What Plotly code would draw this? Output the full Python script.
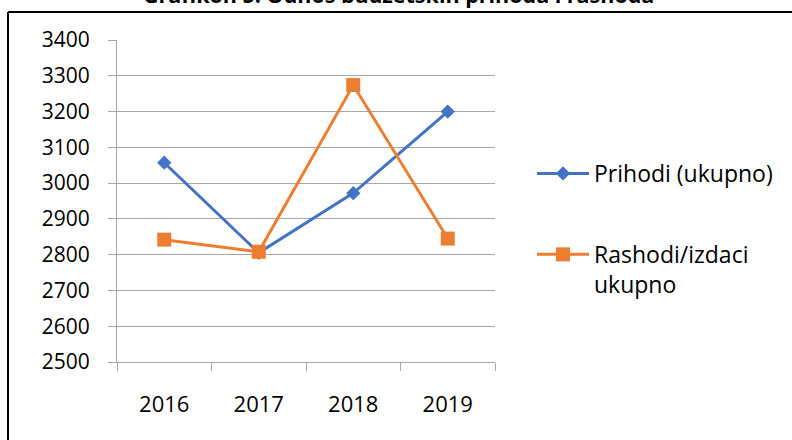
import plotly.graph_objects as go

years = ["2016", "2017", "2018", "2019"]
prihodi = [3057, 2805, 2972, 3200]
rashodi = [2842, 2808, 3274, 2845]
y_ticks = [2500, 2600, 2700, 2800, 2900, 3000, 3100, 3200, 3300, 3400]

W, H = 792, 440
L, R, T, B = 117, 297, 40, 78
pw, ph = W - L - R, H - T - B


def px_x(p):
    return (p - L) / pw


def px_y(p):
    return (H - B - p) / ph


FONT = "Open Sans"

fig = go.Figure()
fig.add_trace(go.Scatter(
    x=years, y=prihodi, mode="lines+markers", name="Prihodi (ukupno)",
    line=dict(color="#4472C4", width=3),
    marker=dict(symbol="diamond", size=11, color="#4472C4"),
    legendgroup="a",
))
fig.add_trace(go.Scatter(
    x=years, y=rashodi, mode="lines+markers", name="Rashodi/izdaci<br>ukupno",
    line=dict(color="#ED7D31", width=3),
    marker=dict(symbol="square", size=14, color="#ED7D31"),
    legendgroup="b",
))

fig.update_layout(
    width=W, height=H,
    margin=dict(l=L, r=R, t=T, b=B, autoexpand=False),
    paper_bgcolor="white", plot_bgcolor="white",
    font=dict(family=FONT, size=22, color="#000000"),
    showlegend=True,
    legend=dict(
        x=px_x(532), xanchor="left", y=px_y(152), yanchor="top",
        traceorder="grouped", tracegroupgap=48, itemwidth=52,
        valign="top", font=dict(family=FONT, size=23, color="#000000"),
        bgcolor="rgba(0,0,0,0)",
    ),
    xaxis=dict(
        type="category", range=[-0.5, 3.5], tickson="boundaries",
        showgrid=False, showline=True, linecolor="#A6A6A6", linewidth=1,
        ticks="outside", ticklen=8, tickcolor="#A6A6A6",
        ticklabelstandoff=23, fixedrange=True,
        tickfont=dict(family=FONT, size=22, color="#000000"),
    ),
    yaxis=dict(
        range=[2500, 3400], tickvals=y_ticks,
        showgrid=True, gridcolor="#A6A6A6", gridwidth=1.3,
        showline=True, linecolor="#A6A6A6", linewidth=1,
        ticks="outside", ticklen=8, tickcolor="#A6A6A6",
        ticklabelstandoff=14, zeroline=False, fixedrange=True,
        tickfont=dict(family=FONT, size=21, color="#000000"),
    ),
    shapes=[
        dict(type="line", xref="paper", yref="paper",
             x0=px_x(8), x1=px_x(800), y0=px_y(12), y1=px_y(12),
             line=dict(color="black", width=2)),
        dict(type="line", xref="paper", yref="paper",
             x0=px_x(8), x1=px_x(8), y0=px_y(12), y1=px_y(445),
             line=dict(color="black", width=2)),
    ],
    annotations=[
        dict(text="<b>Grafikon 5. Odnos budžetskih prihoda i rashoda</b>",
             xref="paper", yref="paper", x=px_x(398), y=px_y(11),
             xanchor="center", yanchor="bottom", showarrow=False,
             font=dict(family=FONT, size=21.5, color="#000000")),
    ],
)

fig.write_html(
    "out.html",
    config={"displayModeBar": False},
    post_script="document.body.style.margin='0';document.body.style.padding='0';",
)
